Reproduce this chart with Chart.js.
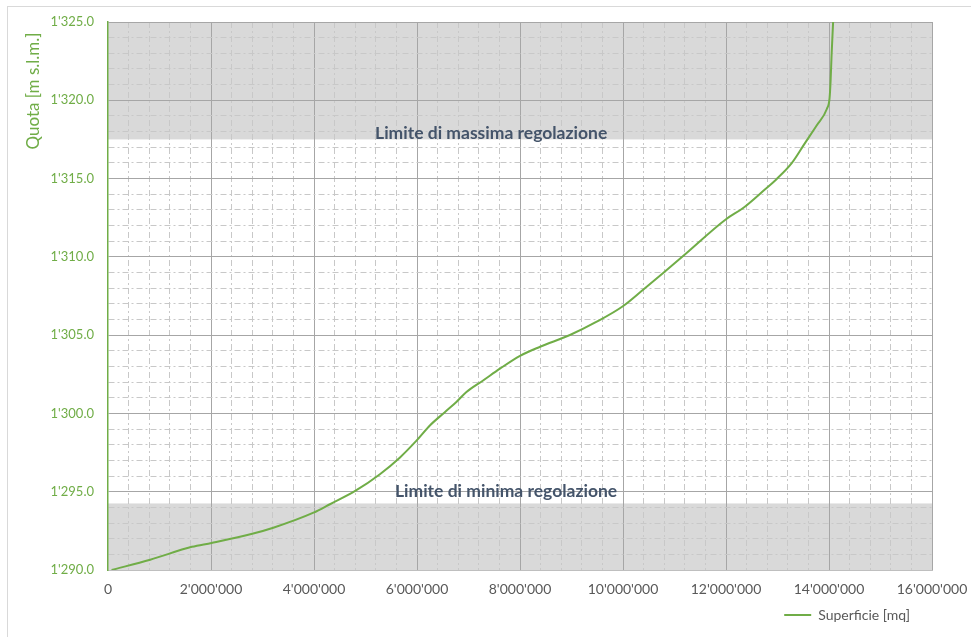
<!DOCTYPE html>
<html>
<head>
<meta charset="utf-8">
<script src="https://cdn.jsdelivr.net/npm/chart.js@4"></script>
<style>
  html, body { margin: 0; padding: 0; background: #fff; }
  #wrap { width: 971px; height: 637px; }
</style>
</head>
<body>
<div id="wrap"><canvas id="c" width="971" height="637"></canvas></div>
<script>
// Curva di invaso: superficie dello specchio d'acqua [mq] per quota [m s.l.m.]
const superficie = [70000, 820000, 1630000, 2010000, 2820000, 3210000, 3990000, 4310000,
  4800000, 5280000, 5670000, 5990000, 6250000, 6540000, 6770000, 6960000, 7290000, 7610000,
  8000000, 8390000, 8970000, 9490000, 9990000, 10390000, 10780000, 11150000, 12000000,
  12340000, 12760000, 12980000, 13280000, 13530000, 13760000, 13960000, 14010000, 14030000,
  14050000, 14080000];
const quota = [1290.0, 1290.66, 1291.48, 1291.73, 1292.33, 1292.70, 1293.66, 1294.2,
  1295.05, 1296.12, 1297.19, 1298.26, 1299.23, 1300.08, 1300.75, 1301.37, 1302.12, 1302.86,
  1303.68, 1304.26, 1305.01, 1305.86, 1306.83, 1307.9, 1308.97, 1310.0, 1312.4,
  1313.14, 1314.32, 1314.96, 1316.0, 1317.25, 1318.39, 1319.46, 1320.1, 1321.17,
  1322.88, 1325.0];

// Etichette degli assi (valori principali)
const xTicks = [0, 2000000, 4000000, 6000000, 8000000, 10000000, 12000000, 14000000, 16000000];
const yTicks = [1290, 1295, 1300, 1305, 1310, 1315, 1320, 1325];

// Limiti di regolazione del serbatoio
const limiteMassima = 1317.5;
const limiteMinima = 1294.25;
const testoMassima = 'Limite di massima regolazione';
const testoMinima = 'Limite di minima regolazione';

const serieLabel = 'Superficie [mq]';
const titoloY = 'Quota [m s.l.m.]';

const VERDE = '#70ad47';
const FONT = 'Lato, "Open Sans", sans-serif';

// Formato numerico con apostrofo come separatore delle migliaia
function swiss(v, dec) {
  const parts = Number(v).toFixed(dec).split('.');
  const int = parts[0].replace(/\B(?=(\d{3})+(?!\d))/g, "'");
  return parts[1] ? int + '.' + parts[1] : int;
}

const DASH_MINORE = [6, 3, 2, 3];

const decorazioni = {
  id: 'decorazioni',
  afterLayout(chart) {
    // legenda un po' rientrata dal bordo destro
    if (chart.legend) chart.legend.right -= 12;
  },
  beforeDraw(chart) {
    const { ctx, chartArea: a, scales: { y } } = chart;
    ctx.save();
    ctx.fillStyle = '#ffffff';
    ctx.fillRect(0, 0, chart.width, chart.height);
    ctx.strokeStyle = '#d9d9d9';
    ctx.lineWidth = 1;
    ctx.strokeRect(7.5, 6.5, chart.width + 10, chart.height + 10);
    // fasce fuori regolazione
    ctx.fillStyle = '#d9d9d9';
    const bande = [[limiteMassima, y.max], [y.min, limiteMinima]];
    bande.forEach(([da, a2]) => {
      const top = y.getPixelForValue(a2);
      const bot = y.getPixelForValue(da);
      ctx.fillRect(a.left, top, a.right - a.left, bot - top);
    });
    ctx.restore();
  },
  afterDatasetsDraw(chart) {
    const { ctx, scales: { x, y } } = chart;
    ctx.save();
    ctx.font = 'bold 17.5px ' + FONT;
    ctx.fillStyle = '#44546a';
    ctx.textAlign = 'center';
    ctx.textBaseline = 'middle';
    ctx.fillText(testoMassima, x.getPixelForValue(7440000), y.getPixelForValue(1317.9));
    ctx.fillText(testoMinima, x.getPixelForValue(7730000), y.getPixelForValue(1295.0));
    ctx.restore();
  },
  afterDraw(chart) {
    const { ctx } = chart;
    ctx.save();
    ctx.translate(34, 91);
    ctx.rotate(-Math.PI / 2);
    ctx.font = '17px ' + FONT;
    ctx.fillStyle = VERDE;
    ctx.textAlign = 'center';
    ctx.textBaseline = 'middle';
    ctx.fillText(titoloY, 0, 0);
    ctx.restore();
  }
};

const punti = superficie.map((s, i) => ({ x: s, y: quota[i] }));

new Chart(document.getElementById('c'), {
  type: 'scatter',
  data: {
    datasets: [{
      label: serieLabel,
      data: punti,
      showLine: true,
      borderColor: VERDE,
      backgroundColor: VERDE,
      borderWidth: 2,
      pointRadius: 0,
      pointHoverRadius: 0,
      cubicInterpolationMode: 'monotone',
      pointStyle: 'line'
    }]
  },
  options: {
    responsive: false,
    devicePixelRatio: 1,
    animation: false,
    layout: { padding: { left: 0, right: 39, top: 22, bottom: 5 } },
    plugins: {
      tooltip: { enabled: false },
      legend: {
        position: 'bottom',
        align: 'end',
        labels: {
          usePointStyle: true,
          pointStyle: 'line',
          pointStyleWidth: 27,
          padding: 10,
          color: '#595959',
          font: { family: FONT, size: 14 }
        }
      }
    },
    scales: {
      x: {
        type: 'linear',
        min: 0,
        max: 16000000,
        afterFit: s => { s.height = 28; s.paddingLeft = 0; s.paddingRight = 0; },
        ticks: {
          stepSize: 400000,
          autoSkip: false,
          maxRotation: 0,
          padding: 11,
          color: '#595959',
          font: { family: FONT, size: 14 },
          callback: v => xTicks.includes(v) ? swiss(v, 0) : ''
        },
        grid: {
          drawTicks: false,
          lineWidth: 1,
          color: c => {
            if (!c.tick) return '#a6a6a6';
            if (c.tick.value === 0) return 'rgba(0,0,0,0)';
            return xTicks.includes(c.tick.value) ? '#a6a6a6' : '#c8c8c8';
          }
        },
        border: {
          display: true,
          color: '#bfbfbf',
          width: 1,
          dash: c => (c.tick && !xTicks.includes(c.tick.value)) ? DASH_MINORE : []
        }
      },
      y: {
        type: 'linear',
        min: 1290,
        max: 1325,
        afterFit: s => { s.width = 108; },
        ticks: {
          stepSize: 1,
          autoSkip: false,
          padding: 14,
          color: VERDE,
          font: { family: FONT, size: 13 },
          callback: v => yTicks.includes(v) ? swiss(v, 1) : ''
        },
        grid: {
          drawTicks: false,
          lineWidth: 1,
          color: c => {
            if (!c.tick) return '#a6a6a6';
            return yTicks.includes(c.tick.value) ? '#a6a6a6' : '#c8c8c8';
          }
        },
        border: {
          display: true,
          color: VERDE,
          width: 1.5,
          dash: c => (c.tick && !yTicks.includes(c.tick.value)) ? DASH_MINORE : []
        }
      }
    }
  },
  plugins: [decorazioni]
});
</script>
</body>
</html>
